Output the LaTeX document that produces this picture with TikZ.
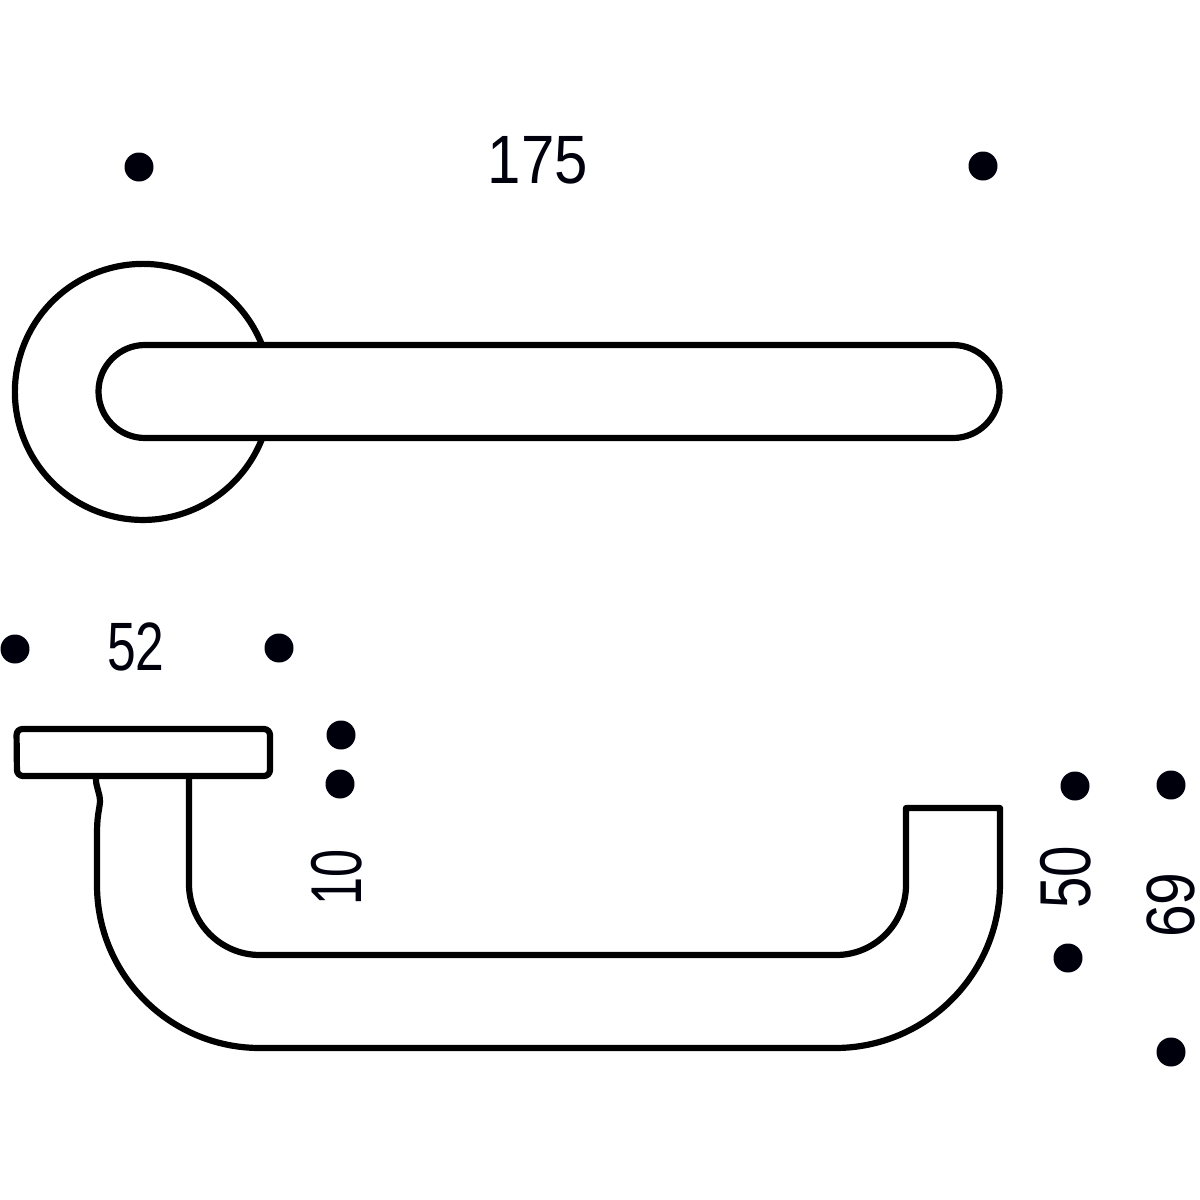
\documentclass[tikz,border=0pt]{standalone}
\usepackage{fontspec}
\setmainfont{Liberation Sans}
\newcommand{\dimtext}[3]{\scalebox{#1}[#2]{\fontsize{60}{60}\selectfont #3}}
\begin{document}
\begin{tikzpicture}[x=1pt,y=-1pt,
  outline/.style={draw=black,line width=6.2pt,line join=round},
  dot/.style={circle,fill=black!95!blue,inner sep=0pt,minimum size=29pt},
  dim/.style={inner sep=0pt,text=black!95!blue}]
\useasboundingbox (0,0) rectangle (1200,1200);
% rose and lever top view
\draw[outline] (262,345) arc[start angle=-21.5,end angle=-338.5,radius=128];
\draw[outline] (145,345) -- (953,345) arc[start angle=-90,end angle=90,radius=46.5] -- (145,438) arc[start angle=90,end angle=270,radius=46.5] -- cycle;
% rose side
\draw[outline,rounded corners=6pt] (16.5,729) -- (270,729) -- (270,776) -- (17,776) -- cycle;
% lever side
\draw[outline] (96,779) .. controls (96,788) and (100,792) .. (100,802) .. controls (99,812) and (97,815) .. (97,835) -- (97,885)
  arc[start angle=180,end angle=90,radius=163] -- (835,1048)
  arc[start angle=90,end angle=0,radius=165] -- (1000,808) -- (906,808) -- (906,885)
  arc[start angle=0,end angle=90,radius=70] -- (260,955)
  arc[start angle=90,end angle=180,radius=71] -- (189,779);
% dots
\node[dot] (d1) at (139,167) {};
\node[dot] (d2) at (983,166) {};
\node[dot] (d3) at (15,649) {};
\node[dot] (d4) at (279,648) {};
\node[dot] (d5) at (341,735) {};
\node[dot] (d6) at (340,784) {};
\node[dot] (d7) at (1075,786) {};
\node[dot] (d8) at (1171,785) {};
\node[dot] (d9) at (1068,958) {};
\node[dot] (d10) at (1171,1052) {};
% labels
\node[dim] (t175) at (538,160) {\dimtext{1}{1.14}{175}};
\node[dim] (t52) at (136,647) {\dimtext{.86}{1.14}{52}};
\node[dim,rotate=90] (t10) at (337,877) {\dimtext{.84}{1.2}{10}};
\node[dim,rotate=90] (t50) at (1066,877) {\dimtext{.94}{1.2}{50}};
\node[dim,rotate=90] (t69) at (1171,905) {\dimtext{.98}{1.14}{69}};
\end{tikzpicture}
\end{document}
